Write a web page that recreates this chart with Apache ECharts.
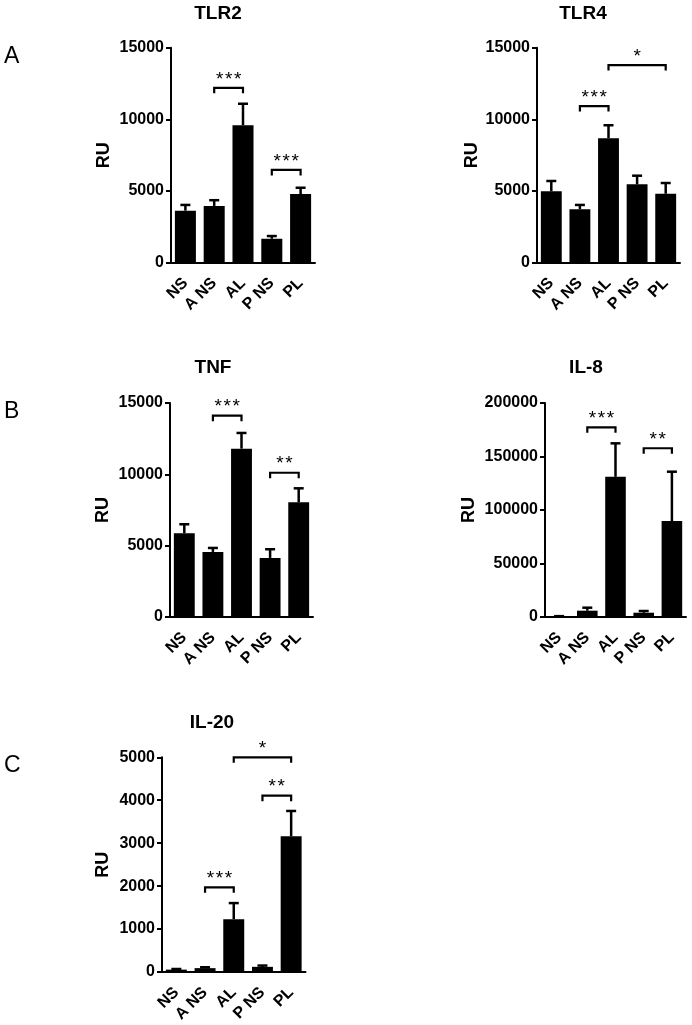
<!DOCTYPE html>
<html>
<head>
<meta charset="utf-8">
<script src="https://cdn.jsdelivr.net/npm/echarts@6/dist/echarts.min.js"></script>
<style>
html,body{margin:0;padding:0;background:#fff;}
#c{width:692px;height:1025px;}
</style>
</head>
<body>
<div id="c"></div>
<script>
// ---- data ----
const categories = ['NS', 'A NS', 'AL', 'P NS', 'PL'];

const tlr2Mean = [3630, 3960, 9590, 1670, 4790];
const tlr2Sem  = [400, 400, 1500, 190, 440];

const tlr4Mean = [4980, 3730, 8680, 5470, 4810];
const tlr4Sem  = [720, 300, 910, 600, 750];

const tnfMean = [5870, 4560, 11800, 4140, 8040];
const tnfSem  = [630, 280, 1100, 610, 980];

const il8Mean = [500, 5900, 131000, 4000, 89700];
const il8Sem  = [300, 2800, 31300, 1600, 46100];

const il20Mean = [55, 90, 1230, 120, 3160];
const il20Sem  = [15, 20, 375, 30, 590];

// brackets: [fromIndex, toIndex, yValue]
const tlr2Brackets = [[1, 2, 12200], [3, 4, 6470]];
const tlr2Stars = ['***', '***'];
const tlr4Brackets = [[1, 2, 10930], [2, 4, 13790]];
const tlr4Stars = ['***', '*'];
const tnfBrackets = [[1, 2, 14110], [3, 4, 10110]];
const tnfStars = ['***', '**'];
const il8Brackets = [[1, 2, 177300], [3, 4, 157700]];
const il8Stars = ['***', '**'];
const il20Brackets = [[2, 4, 5000], [3, 4, 4106], [1, 2, 1972]];
const il20Stars = ['*', '**', '***'];

const yMax = [15000, 15000, 15000, 200000, 5000];
const yInterval = [5000, 5000, 5000, 50000, 1000];
const titles = ['TLR2', 'TLR4', 'TNF', 'IL-8', 'IL-20'];

// ---- layout ----
const panels = [
  {mean: tlr2Mean, sem: tlr2Sem, br: tlr2Brackets, st: tlr2Stars, grid: {left: 171, top: 47.7, width: 144, height: 215}, nameGap: 58, title: [218, 14]},
  {mean: tlr4Mean, sem: tlr4Sem, br: tlr4Brackets, st: tlr4Stars, grid: {left: 537, top: 47.7, width: 143, height: 215}, nameGap: 56, title: [583, 14]},
  {mean: tnfMean, sem: tnfSem, br: tnfBrackets, st: tnfStars, grid: {left: 170, top: 403, width: 143, height: 214}, nameGap: 58, title: [213, 368]},
  {mean: il8Mean, sem: il8Sem, br: il8Brackets, st: il8Stars, grid: {left: 545, top: 403, width: 141, height: 214}, nameGap: 67, title: [586, 368]},
  {mean: il20Mean, sem: il20Sem, br: il20Brackets, st: il20Stars, grid: {left: 162, top: 757.3, width: 143.5, height: 214.7}, nameGap: 50, title: [212, 723]}
];

const FONT = 'Arial, "Liberation Sans", sans-serif';
const grids = [], xAxes = [], yAxes = [], series = [], graphics = [];

panels.forEach((p, i) => {
  grids.push(Object.assign({containLabel: false}, p.grid));
  xAxes.push({
    type: 'category', gridIndex: i, data: categories,
    axisLine: {lineStyle: {color: '#000', width: 2}},
    axisTick: {alignWithLabel: true, length: 5, lineStyle: {color: '#000', width: 2}},
    axisLabel: {rotate: 45, color: '#000', fontWeight: 'bold', fontSize: 16, fontFamily: FONT, margin: 18, interval: 0}
  });
  yAxes.push({
    type: 'value', gridIndex: i, min: 0, max: yMax[i], interval: yInterval[i],
    name: 'RU', nameLocation: 'middle', nameGap: p.nameGap,
    nameTextStyle: {color: '#000', fontWeight: 'bold', fontSize: 18, fontFamily: FONT},
    axisLine: {show: true, lineStyle: {color: '#000', width: 2}},
    axisTick: {show: true, length: 5, lineStyle: {color: '#000', width: 2}},
    axisLabel: {color: '#000', fontWeight: 'bold', fontSize: 16, fontFamily: FONT, margin: 7,
      formatter: v => String(v)},
    splitLine: {show: false}
  });
  series.push({
    type: 'bar', xAxisIndex: i, yAxisIndex: i, data: p.mean,
    barWidth: '73%', itemStyle: {color: '#000'}, silent: true
  });
  series.push({
    type: 'custom', xAxisIndex: i, yAxisIndex: i, z: 5,
    data: p.mean.map((m, k) => [k, m, p.sem[k]]),
    renderItem: function (params, api) {
      const x = api.value(0), m = api.value(1), s = api.value(2);
      const p0 = api.coord([x, m]);
      const p1 = api.coord([x, m + s]);
      return {
        type: 'group', children: [
          {type: 'line', shape: {x1: p0[0], y1: p0[1], x2: p1[0], y2: p1[1]}, style: {stroke: '#000', lineWidth: 2.5}},
          {type: 'line', shape: {x1: p1[0] - 5, y1: p1[1], x2: p1[0] + 5, y2: p1[1]}, style: {stroke: '#000', lineWidth: 2.5}}
        ]
      };
    }
  });
  const stars = p.st;
  series.push({
    type: 'custom', xAxisIndex: i, yAxisIndex: i, z: 6,
    data: p.br,
    renderItem: function (params, api) {
      const a = api.coord([api.value(0), api.value(2)]);
      const b = api.coord([api.value(1), api.value(2)]);
      const n = stars[params.dataIndex].length;
      const cx = (a[0] + b[0]) / 2;
      const children = [
        {type: 'polyline', shape: {points: [[a[0], a[1] + 5.5], [a[0], a[1]], [b[0], b[1]], [b[0], b[1] + 5.5]]},
          style: {stroke: '#000', lineWidth: 2.2, fill: null}}
      ];
      for (let k = 0; k < n; k++) {
        children.push({type: 'text', style: {x: cx + (k - (n - 1) / 2) * 9, y: a[1] + 1, text: '*', textAlign: 'center', textVerticalAlign: 'bottom',
          fontSize: 19, fontFamily: FONT, fill: '#000'}});
      }
      return {type: 'group', children: children};
    }
  });
  graphics.push({
    type: 'text', x: p.title[0], y: p.title[1],
    style: {text: titles[i], textAlign: 'center', textVerticalAlign: 'middle', fontSize: 19, fontWeight: 'bold', fontFamily: FONT, fill: '#000'}
  });
});

[['A', 57], ['B', 412], ['C', 766]].forEach(l => {
  graphics.push({type: 'text', x: 4, y: l[1],
    style: {text: l[0], textAlign: 'left', textVerticalAlign: 'middle', fontSize: 23, fontFamily: FONT, fill: '#000'}});
});

const chart = echarts.init(document.getElementById('c'), null, {renderer: 'canvas'});
chart.setOption({
  animation: false,
  backgroundColor: '#fff',
  grid: grids, xAxis: xAxes, yAxis: yAxes, series: series,
  graphic: graphics
});
</script>
</body>
</html>
